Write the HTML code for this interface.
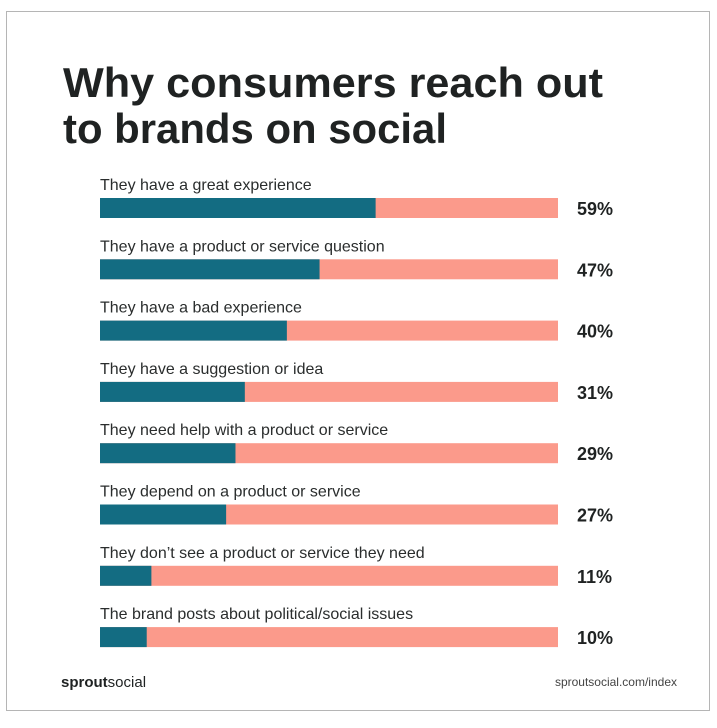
<!DOCTYPE html>
<html><head><meta charset="utf-8"><style>
body{margin:0;background:#fff;width:717px;height:723px;overflow:hidden;font-family:"Liberation Sans",sans-serif;}
</style></head><body>
<svg width="717" height="723" xmlns="http://www.w3.org/2000/svg">
<rect x="6.5" y="11.5" width="703" height="699" fill="#fff" stroke="#b5b5b5" stroke-width="1"/>
<text x="63" y="97" font-size="42" font-weight="bold" fill="#1f2222" textLength="540" lengthAdjust="spacingAndGlyphs">Why consumers reach out</text>
<text x="63" y="143" font-size="42" font-weight="bold" fill="#1f2222" textLength="384" lengthAdjust="spacingAndGlyphs">to brands on social</text>
<g id="bars"></g>
<text x="61" y="687" font-size="15" fill="#1f2222"><tspan font-weight="bold">sprout</tspan>social</text>
<text x="677" y="686" font-size="12" fill="#444" text-anchor="end">sproutsocial.com/index</text>
</svg>
<script>
const categories=["They have a great experience","They have a product or service question","They have a bad experience","They have a suggestion or idea","They need help with a product or service","They depend on a product or service","They don’t see a product or service they need","The brand posts about political/social issues"];
const values=[59,47,40,31,29,27,11,10];
const valueLabels=["59%","47%","40%","31%","29%","27%","11%","10%"];
const NS="http://www.w3.org/2000/svg";
const g=document.getElementById('bars');
const x0=100,x1=558,top0=198,step=61.3,bh=20;
function xScale(v){return x0+(x1-x0)*v/100*1.02;}
function yPos(i){return top0+i*step;}
categories.forEach((c,i)=>{
  const y=yPos(i);
  const lab=document.createElementNS(NS,'text');
  
  
  lab.setAttribute('x',x0);lab.setAttribute('y',y-8);
  lab.setAttribute('font-size','16');lab.setAttribute('fill','#2a2d2d');
  lab.textContent=c;g.appendChild(lab);
  const bg=document.createElementNS(NS,'rect');
  
  
  bg.setAttribute('x',x0);bg.setAttribute('y',y);bg.setAttribute('width',x1-x0);bg.setAttribute('height',bh);bg.setAttribute('fill','#fb9a8b');
  g.appendChild(bg);
  const b=document.createElementNS(NS,'rect');
  
  
  b.setAttribute('x',x0);b.setAttribute('y',y);b.setAttribute('width',xScale(values[i])-x0);b.setAttribute('height',bh);b.setAttribute('fill','#136c82');
  g.appendChild(b);
  const v=document.createElementNS(NS,'text');
  
  
  v.setAttribute('x',577);v.setAttribute('y',y+17);
  v.setAttribute('font-size','18');v.setAttribute('font-weight','bold');v.setAttribute('fill','#1f2222');
  v.textContent=valueLabels[i];g.appendChild(v);
});
</script>
</body></html>
